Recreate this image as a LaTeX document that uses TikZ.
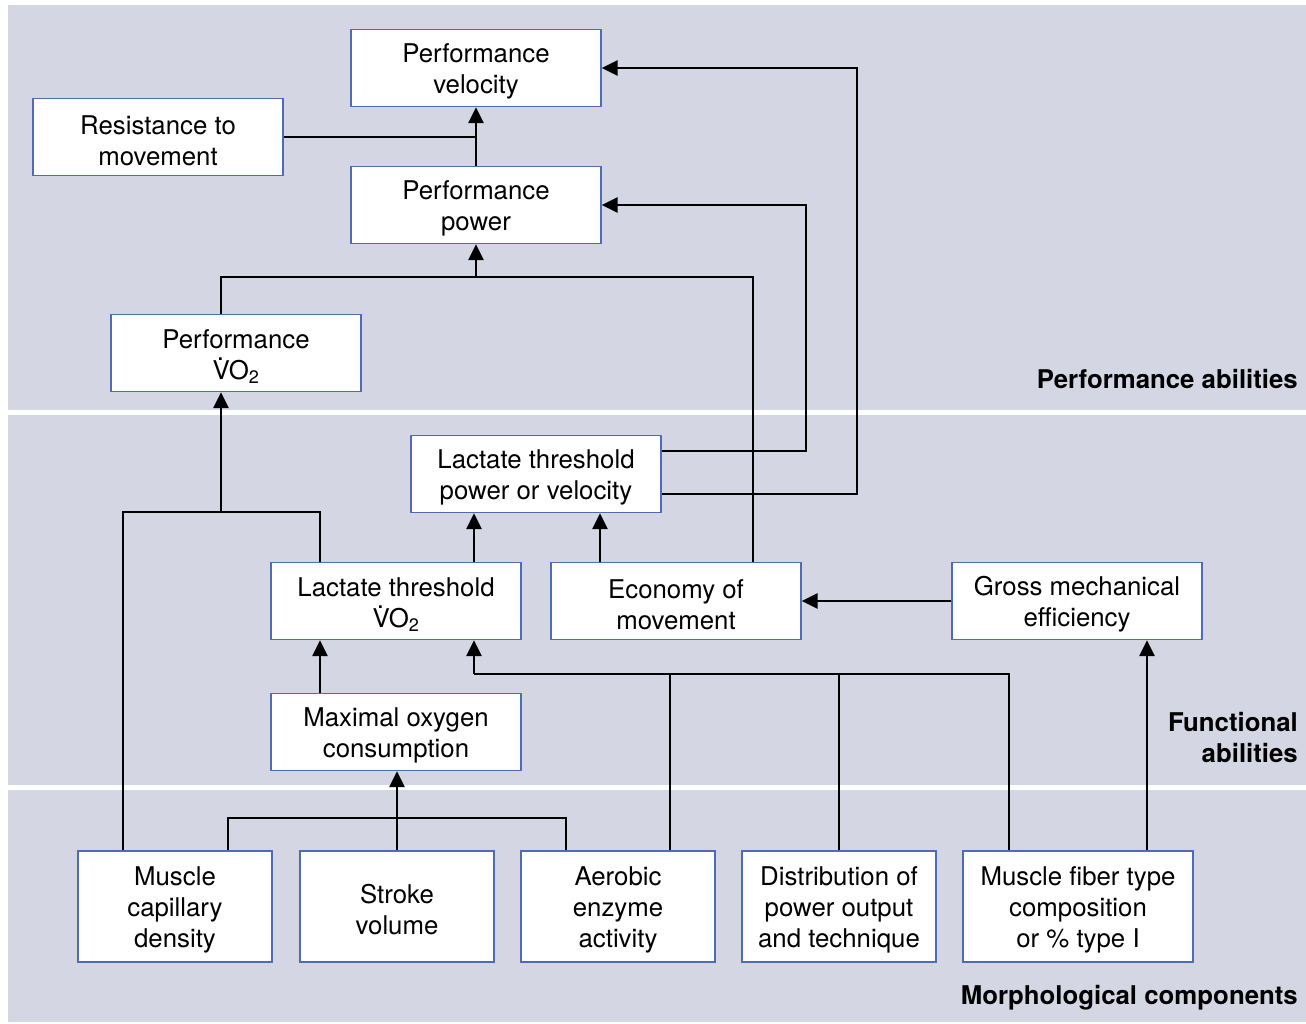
\documentclass[tikz,border=0pt]{standalone}
\usepackage{fontspec}
\setmainfont{TeX Gyre Heros}
\usetikzlibrary{arrows.meta}
\definecolor{bgc}{RGB}{212,214,228}
\definecolor{boxc}{RGB}{78,108,182}
\newcommand{\VdotO}{\makebox[0pt][l]{\hspace{0.17em}\raisebox{0.74em}{.}}VO\textsubscript{2}}
\newcommand{\bx}[4][box]{\node[#1] (#2) at (#3) {};\node[txt] (#2t) at ([yshift=-3.5pt]#2.center) {#4};}
\begin{document}
\begin{tikzpicture}[x=1pt,y=-1pt,
  every node/.style={font=\fontsize{25.8}{31}\selectfont},
  box/.style={draw=boxc,line width=1.3pt,fill=white,inner sep=0pt,minimum width=250pt,minimum height=77pt},
  lbox/.style={box,minimum width=194pt,minimum height=111pt},
  txt/.style={align=center,inner sep=0pt},
  lab/.style={font=\fontsize{25.8}{31}\selectfont\bfseries,align=right,anchor=east,inner sep=0pt},
  ln/.style={line width=2.7pt,line join=miter},
  arr/.style={ln,-{Triangle[length=16pt,width=15pt]}}]
\useasboundingbox (0,0) rectangle (1306,1024);
\fill[bgc] (8,5) rectangle (1306,1022);
\fill[white] (8,410) rectangle (1306,415);
\fill[white] (8,785) rectangle (1306,790);
% labels
\node[lab] (la1) at (1298,379) {Performance abilities};
\node[lab] (la2) at (1298,737) {Functional\\abilities};
\node[lab] (la3) at (1298,998) {Morphological components};
% boxes
\bx{vel}{476,68}{Performance\\velocity}
\bx{res}{158,137}{Resistance to\\movement}
\bx{power}{476,205}{Performance\\power}
\bx{pvo2}{236,353}{Performance\\\VdotO}
\bx{ltpv}{536,474}{Lactate threshold\\power or velocity}
\bx{ltvo2}{396,601}{Lactate threshold\\\VdotO}
\bx{econ}{676,601}{Economy of\\movement}
\bx{gme}{1077,601}{Gross mechanical\\efficiency}
\bx{maxo2}{396,732}{Maximal oxygen\\consumption}
\bx[lbox]{capd}{175,906.5}{Muscle\\capillary\\density}
\bx[lbox]{sv}{397,906.5}{Stroke\\volume}
\bx[lbox]{aer}{618,906.5}{Aerobic\\enzyme\\activity}
\bx[lbox]{dist}{839,906.5}{Distribution of\\power output\\and technique}
\bx[lbox,minimum width=230pt]{fib}{1078,906.5}{Muscle fiber type\\composition\\or \% type I}
% junction coordinates
\coordinate (j1) at (476,277);
\coordinate (j2) at (221,512);
\coordinate (j3) at (474,674);
\coordinate (j4) at (397,818);
\coordinate (c1) at (806,205);
\coordinate (c2) at (857,68);
% connectors
\draw[arr] (power.north) -- (vel.south);
\draw[ln] (res.east) -- (res.east -| vel.south);
\draw[ln] ([xshift=-15pt]pvo2.north) |- (j1);
\draw[ln] ([xshift=77pt]econ.north) |- (j1);
\draw[arr] (j1) -- (power.south);
\draw[arr] ([yshift=23pt]ltpv.east) -| (c1) -- (power.east);
\draw[arr] ([yshift=-20pt]ltpv.east) -| (c2) -- (vel.east);
\draw[ln] ([xshift=-52pt]capd.north) |- (j2) -| ([xshift=-76pt]ltvo2.north);
\draw[arr] (j2) -- ([xshift=-15pt]pvo2.south);
\draw[arr] ([xshift=78pt]ltvo2.north) -- ([xshift=78pt]ltvo2.north |- ltpv.south);
\draw[arr] ([xshift=-76pt]econ.north) -- ([xshift=-76pt]econ.north |- ltpv.south);
\draw[arr] (gme.west) -- (econ.east);
\draw[arr] ([xshift=-76pt]maxo2.north) -- ([xshift=-76pt]ltvo2.south);
\draw[ln] ([xshift=-69pt]fib.north) |- (j3);
\draw[ln] ([xshift=52pt]aer.north) |- (j3);
\draw[ln] (dist.north) |- (j3);
\draw[arr] (j3) -- ([xshift=78pt]ltvo2.south);
\draw[arr] ([xshift=69pt]fib.north) -- ([xshift=69pt]fib.north |- gme.south);
\draw[ln] ([xshift=53pt]capd.north) |- (j4);
\draw[ln] ([xshift=-52pt]aer.north) |- (j4);
\draw[arr] (sv.north) -- (sv.north |- maxo2.south);
\end{tikzpicture}
\end{document}
